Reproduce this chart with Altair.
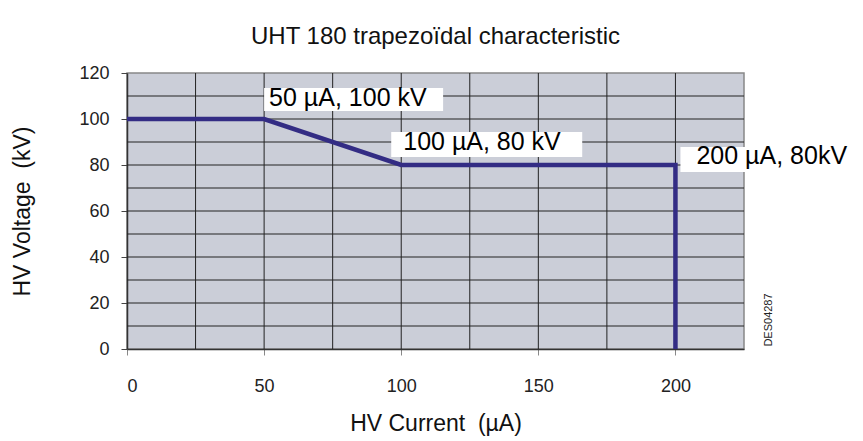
import altair as alt
import pandas as pd

# data
current = [0, 50, 100, 200, 200]
voltage = [100, 100, 80, 80, 0]
ann_x = [50, 100, 200]
ann_y = [100, 80, 80]
ann_label = ["50 µA, 100 kV", "100 µA, 80 kV", "200 µA, 80kV"]
x_ticks = [0, 50, 100, 150, 200]
x_grid = [25, 50, 75, 100, 125, 150, 175, 200]
y_ticks = [0, 10, 20, 30, 40, 50, 60, 70, 80, 90, 100, 110, 120]
y_grid = [10, 20, 30, 40, 50, 60, 70, 80, 90, 100, 110]

line_df = pd.DataFrame({"current": current, "voltage": voltage, "order": list(range(len(current)))})
ann_df = pd.DataFrame({"current": ann_x, "voltage": ann_y, "label": ann_label})

FONT = "Liberation Sans"
NB = "\u00a0"
xscale = alt.Scale(domain=[0, 225], nice=False, zero=False)
yscale = alt.Scale(domain=[0, 120], nice=False, zero=False)

xaxis = alt.Axis(
    values=x_ticks, title="HV Current" + NB + NB + "(µA)", titleFontSize=23, titleFont=FONT,
    titleFontWeight="normal", titleColor="#111", titlePadding=17,
    labelFontSize=18, labelFont=FONT, labelColor="#222", labelPadding=22,
    tickSize=6, tickColor="#888", grid=False,
    domainColor="#333", domainWidth=1.5,
)
yaxis = alt.Axis(
    values=y_ticks, title="HV Voltage" + NB + NB + "(kV)", titleFontSize=23, titleFont=FONT,
    titleFontWeight="normal", titleColor="#111", titlePadding=44,
    labelExpr="datum.value % 20 == 0 ? datum.label : ''",
    labelFontSize=18, labelFont=FONT, labelColor="#222", labelPadding=12,
    tickSize=6, tickColor="#444", grid=False,
    domainColor="#333", domainWidth=1.5,
)

xgrid = alt.Chart(pd.DataFrame({"g": x_grid})).mark_rule(color="#222", strokeWidth=1).encode(
    x=alt.X("g:Q", scale=xscale))
ygrid = alt.Chart(pd.DataFrame({"g": y_grid})).mark_rule(color="#222", strokeWidth=1).encode(
    y=alt.Y("g:Q", scale=yscale))

base = alt.Chart(line_df)
line = base.mark_line(color="#332c84", strokeWidth=4.5, strokeJoin="miter", strokeCap="butt").encode(
    x=alt.X("current:Q", scale=xscale, axis=xaxis),
    y=alt.Y("voltage:Q", scale=yscale, axis=yaxis),
    order="order:O",
)

# box offsets (pixel) for each annotation: (x1, x2, y1, y2, dx, dy)
box_style = [(0, 179, -31, -8, 5, -13), (-10, 181, -33, -8, 2, -15), (5, 185, -18, 7, 21, -1)]
layers = [xgrid, ygrid, line]
for i, lab in enumerate(ann_label):
    x1, x2, y1, y2, dx, dy = box_style[i]
    sub = alt.Chart(ann_df).transform_filter(alt.datum.label == lab)
    rect = sub.mark_rect(color="white", xOffset=x1, x2Offset=x2, yOffset=y1, y2Offset=y2).encode(
        x=alt.X("current:Q", scale=xscale), x2="current:Q",
        y=alt.Y("voltage:Q", scale=yscale), y2="voltage:Q",
    )
    txt = sub.mark_text(align="left", baseline="alphabetic", dx=dx, dy=dy, fontSize=25,
                        font=FONT, color="#000").encode(
        x=alt.X("current:Q", scale=xscale), y=alt.Y("voltage:Q", scale=yscale), text="label:N",
    )
    layers += [rect, txt]

code = alt.Chart(pd.DataFrame({"t": ["DES04287"]})).mark_text(
    angle=270, fontSize=11, font=FONT, color="#222", align="center", baseline="middle"
).encode(x=alt.value(642), y=alt.value(247), text="t:N")
layers.append(code)

chart = alt.layer(*layers).properties(
    width=617, height=276,
    title=alt.TitleParams("UHT 180 trapezoïdal characteristic", fontSize=24, font=FONT,
                          fontWeight="normal", color="#111", offset=15, anchor="middle"),
    autosize=alt.AutoSizeParams(type="none"),
    padding={"left": 119, "top": 65, "right": 111, "bottom": 92},
).configure_view(fill="#cbced8", stroke="#888", strokeWidth=1.5)

chart.save("out.html", embed_options={"renderer": "svg", "actions": False})
